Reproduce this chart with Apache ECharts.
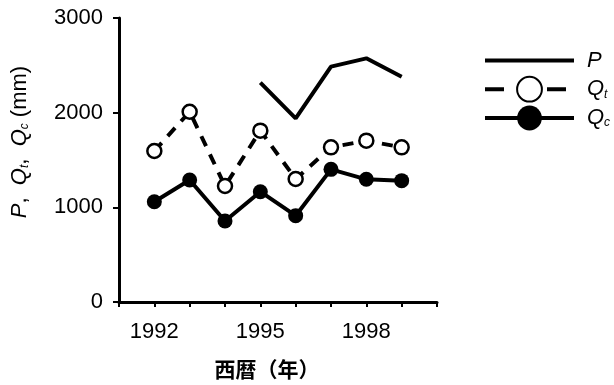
<!DOCTYPE html>
<html><head><meta charset="utf-8">
<script src="https://cdn.jsdelivr.net/npm/echarts@6/dist/echarts.min.js"></script>
<style>html,body{margin:0;padding:0;background:#fff}#c{width:614px;height:385px}</style>
</head><body><div id="c"></div>
<script>
const years = [1992, 1993, 1994, 1995, 1996, 1997, 1998, 1999];
const yearsP = [1995, 1996, 1997, 1998, 1999];
const valuesP = [2317, 1940, 2486, 2574, 2380];
const valuesQt = [1595, 2010, 1225, 1810, 1299, 1634, 1704, 1634];
const valuesQc = [1059, 1289, 856, 1165, 912, 1401, 1296, 1282];
const xLabels = [1992, 1995, 1998];
const yTicks = [0, 1000, 2000, 3000];

const font = '"Liberation Sans", Arial, sans-serif';
const pair = (xs, ys) => xs.map((x, i) => [x, ys[i]]);
const chart = echarts.init(document.getElementById('c'), null, {renderer: 'canvas'});
const richItal = {
  i: {fontStyle: 'italic', fontSize: 22, fontFamily: font, color: '#000'},
  s: {fontStyle: 'italic', fontSize: 12, fontFamily: font, color: '#000', verticalAlign: 'bottom', padding: [10, 0, 0, 0]},
  n: {fontSize: 22, fontFamily: font, color: '#000'}
};
chart.setOption({
  animation: false,
  backgroundColor: '#fff',
  grid: {left: 119, right: 177, top: 18, bottom: 83, containLabel: false},
  legend: {
    orient: 'vertical', left: 478, top: 43, itemWidth: 89, itemHeight: 31, itemGap: 3,
    lineStyle: {width: 4, color: '#000'},
    data: [
      {name: 'P', itemStyle: {opacity: 0, color: 'transparent', borderWidth: 0}},
      {name: 'Qt', lineStyle: {type: [19, 43, 19, 100], width: 4}},
      {name: 'Qc'}
    ],
    formatter: n => n === 'P' ? '{i|P}' : (n === 'Qt' ? '{i|Q}{s|t}' : '{i|Q}{s|c}'),
    textStyle: {rich: richItal, padding: [0, 0, 0, 8]}
  },
  xAxis: {
    type: 'value', min: 1991, max: 2000, interval: 1,
    name: '西暦（年）', nameLocation: 'middle', nameGap: 57,
    nameTextStyle: {fontSize: 21, fontWeight: 'bold', color: '#000', fontFamily: '"Noto Sans CJK JP", sans-serif', padding: [0, 22, 0, 0]},
    axisLine: {lineStyle: {color: '#000', width: 3}},
    axisTick: {show: true, length: 5, lineStyle: {color: '#000', width: 2}},
    splitLine: {show: false},
    axisLabel: {
      fontSize: 22, color: '#000', fontFamily: font, margin: 19,
      formatter: v => xLabels.includes(v) ? String(v) : ''
    }
  },
  yAxis: {
    type: 'value', min: yTicks[0], max: yTicks[yTicks.length - 1], interval: 1000,
    name: '{i|P}{n|,  }{i|Q}{s|t}{n|,  }{i|Q}{s|c}{n| (mm)}',
    nameLocation: 'middle', nameGap: 88, nameRotate: 90,
    nameTextStyle: {rich: richItal, padding: [0, 0, 0, 36]},
    axisLine: {show: true, lineStyle: {color: '#000', width: 3}},
    axisTick: {show: true, length: 6, lineStyle: {color: '#000', width: 2}},
    splitLine: {show: false},
    axisLabel: {fontSize: 22, color: '#000', fontFamily: font, margin: 16, formatter: v => String(v)}
  },
  series: [
    {name: 'P', type: 'line', data: pair(yearsP, valuesP), symbol: 'none',
     lineStyle: {color: '#000', width: 4}, itemStyle: {color: '#000'}, z: 3},
    {name: 'Qt', type: 'line', data: pair(years, valuesQt), symbol: 'circle', symbolSize: 14,
     lineStyle: {color: '#000', width: 4, type: [11, 9]},
     itemStyle: {color: '#fff', borderColor: '#000', borderWidth: 2.5}, z: 4},
    {name: 'Qc', type: 'line', data: pair(years, valuesQc), symbol: 'circle', symbolSize: 15,
     lineStyle: {color: '#000', width: 4},
     itemStyle: {color: '#000', borderColor: '#000', borderWidth: 0}, z: 5}
  ]
});
</script></body></html>
